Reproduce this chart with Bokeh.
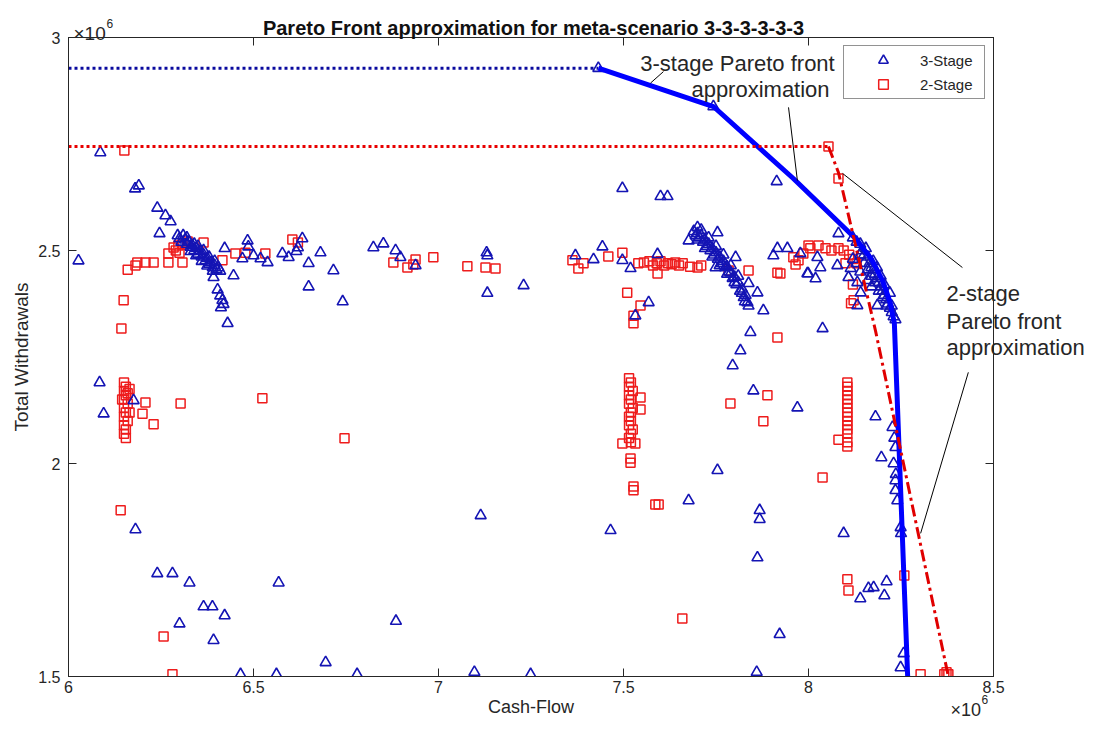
from bokeh.plotting import figure
from bokeh.models import (FixedTicker, CustomJSTickFormatter, LinearAxis,
                          Legend, LegendItem, Range1d, ColumnDataSource)
from bokeh.core.properties import value
from bokeh.embed import file_html
from bokeh.resources import INLINE

# ---------------- data (Cash-Flow, Total Withdrawals) in units of 1e6 ----------------
stage3_front_pts = [(7.432, 2.928), (7.743, 2.838)]
stage3_left = [(6.027, 2.476), (6.086, 2.73), (6.18, 2.645), (6.19, 2.652), (6.24, 2.60),
               (6.262, 2.582), (6.276, 2.568), (6.246, 2.54), (6.422, 2.505), (6.446, 2.441),
               (6.392, 2.437), (6.403, 2.408), (6.41, 2.394), (6.416, 2.383), (6.419, 2.374),
               (6.412, 2.366), (6.43, 2.329), (6.484, 2.523), (6.486, 2.509), (6.47, 2.481),
               (6.50, 2.488), (6.519, 2.481), (6.538, 2.472), (6.578, 2.493), (6.595, 2.484),
               (6.632, 2.528), (6.62, 2.507), (6.616, 2.498), (6.649, 2.47), (6.649, 2.415),
               (6.681, 2.495), (6.716, 2.453), (6.741, 2.38)]
stage3_cluster1 = [(6.295, 2.535), (6.30, 2.528), (6.305, 2.52), (6.31, 2.535), (6.315, 2.525),
                   (6.32, 2.515), (6.325, 2.52), (6.33, 2.508), (6.335, 2.512), (6.34, 2.50),
                   (6.345, 2.505), (6.35, 2.492), (6.355, 2.498), (6.36, 2.485), (6.365, 2.49),
                   (6.37, 2.476), (6.375, 2.482), (6.38, 2.468), (6.385, 2.472), (6.39, 2.46),
                   (6.395, 2.465), (6.40, 2.455), (6.405, 2.46), (6.41, 2.452), (6.33, 2.498),
                   (6.345, 2.488), (6.36, 2.475), (6.375, 2.464), (6.39, 2.452), (6.35, 2.51),
                   (6.365, 2.50), (6.38, 2.485), (6.395, 2.475), (6.32, 2.53), (6.34, 2.515)]
stage3_middle = [(6.824, 2.507), (6.851, 2.516), (6.884, 2.50), (6.897, 2.484), (6.938, 2.465),
                 (7.132, 2.488), (7.13, 2.495), (7.132, 2.40), (7.23, 2.418), (7.37, 2.488),
                 (7.443, 2.509), (7.419, 2.479), (7.497, 2.477), (7.519, 2.458), (7.592, 2.491),
                 (7.568, 2.378), (7.532, 2.347), (7.497, 2.646), (7.60, 2.627), (7.619, 2.627)]
stage3_cluster2 = [(7.676, 2.523), (7.70, 2.554), (7.754, 2.542), (7.69, 2.545), (7.695, 2.535),
                   (7.70, 2.54), (7.705, 2.53), (7.71, 2.535), (7.715, 2.52), (7.72, 2.525),
                   (7.725, 2.51), (7.73, 2.515), (7.735, 2.50), (7.74, 2.505), (7.745, 2.49),
                   (7.75, 2.495), (7.755, 2.48), (7.76, 2.485), (7.765, 2.47), (7.77, 2.475),
                   (7.775, 2.46), (7.78, 2.462), (7.785, 2.45), (7.79, 2.448), (7.795, 2.435),
                   (7.80, 2.438), (7.805, 2.42), (7.81, 2.425), (7.815, 2.405), (7.82, 2.41),
                   (7.825, 2.39), (7.83, 2.395), (7.835, 2.378), (7.838, 2.37), (7.70, 2.525),
                   (7.72, 2.505), (7.74, 2.485), (7.76, 2.465), (7.78, 2.445), (7.80, 2.425),
                   (7.82, 2.40), (7.71, 2.548), (7.73, 2.53), (7.75, 2.51), (7.77, 2.49),
                   (7.79, 2.465), (7.81, 2.44), (7.828, 2.38)]
stage3_right = [(7.749, 2.46), (7.803, 2.484), (7.838, 2.423), (7.862, 2.401), (7.878, 2.359),
                (7.843, 2.308), (7.816, 2.265), (7.795, 2.23), (7.851, 2.171), (7.905, 2.488),
                (7.916, 2.505), (7.997, 2.446), (7.914, 2.662), (7.97, 2.131), (7.754, 1.984),
                (7.676, 1.913), (7.868, 1.89), (7.868, 1.869), (7.465, 1.843), (7.862, 1.779),
                (7.922, 1.599), (7.114, 1.878), (7.86, 1.51)]
stage3_low = [(6.465, 1.505), (6.562, 1.505), (6.695, 1.533), (6.78, 1.505), (7.097, 1.51),
              (7.249, 1.505), (6.885, 1.63), (6.084, 2.19), (6.095, 2.117), (6.176, 2.148),
              (6.181, 1.845), (6.24, 1.742), (6.281, 1.742), (6.327, 1.72), (6.568, 1.72),
              (6.365, 1.664), (6.389, 1.664), (6.422, 1.643), (6.30, 1.624), (6.392, 1.585)]
stage3_near_front = [(8.081, 2.54), (7.943, 2.505), (7.978, 2.493), (8.024, 2.484), (7.999, 2.446),
                     (8.019, 2.434), (8.032, 2.46), (8.078, 2.465), (8.114, 2.458), (8.108, 2.437),
                     (8.132, 2.425), (8.141, 2.401), (8.132, 2.371), (8.186, 2.371), (8.038, 2.317),
                     (8.12, 2.53), (8.13, 2.52), (8.14, 2.515), (8.145, 2.50), (8.15, 2.49),
                     (8.16, 2.485), (8.165, 2.47), (8.17, 2.46), (8.175, 2.455), (8.18, 2.445),
                     (8.185, 2.435), (8.19, 2.425), (8.195, 2.415), (8.20, 2.405), (8.205, 2.395),
                     (8.21, 2.385), (8.215, 2.375), (8.22, 2.365), (8.225, 2.355), (8.23, 2.345),
                     (8.235, 2.338), (8.15, 2.47), (8.16, 2.455), (8.17, 2.44), (8.18, 2.425),
                     (8.19, 2.405), (8.20, 2.39), (8.21, 2.37), (8.14, 2.49), (8.155, 2.505),
                     (8.175, 2.475), (8.185, 2.46), (8.195, 2.44), (8.205, 2.42), (8.22, 2.40),
                     (8.225, 2.37), (8.17, 2.415), (8.16, 2.43), (8.13, 2.47), (8.12, 2.48),
                     (8.14, 2.45)]
stage3_vertical = [(8.227, 2.085), (8.235, 2.038), (8.23, 2.0), (8.235, 1.96), (8.235, 1.937),
                   (8.24, 1.913), (8.249, 1.85), (8.25, 1.836), (8.257, 1.554), (8.249, 1.521),
                   (8.232, 2.06), (8.236, 1.975), (8.181, 2.11), (8.197, 2.014), (8.095, 1.836),
                   (8.14, 1.683), (8.162, 1.707), (8.176, 1.709), (8.211, 1.723), (8.205, 1.69)]

stage2_left = [(6.151, 2.735), (6.16, 2.455), (6.181, 2.465), (6.186, 2.472), (6.208, 2.472),
               (6.23, 2.472), (6.27, 2.472), (6.308, 2.472), (6.27, 2.493), (6.284, 2.507),
               (6.297, 2.512), (6.308, 2.514), (6.322, 2.521), (6.29, 2.50), (6.30, 2.495),
               (6.365, 2.519), (6.416, 2.477), (6.451, 2.493), (6.478, 2.495), (6.532, 2.493),
               (6.605, 2.526), (6.62, 2.519), (6.149, 2.383), (6.143, 2.317)]
stage2_left_column = [(6.15, 2.19), (6.155, 2.18), (6.15, 2.17), (6.155, 2.16), (6.15, 2.15),
                      (6.16, 2.14), (6.15, 2.13), (6.155, 2.12), (6.15, 2.11), (6.16, 2.10),
                      (6.15, 2.09), (6.155, 2.08), (6.15, 2.07), (6.155, 2.06), (6.165, 2.175),
                      (6.165, 2.12), (6.16, 2.165), (6.145, 2.15), (6.208, 2.143), (6.2, 2.117),
                      (6.23, 2.092), (6.303, 2.141), (6.524, 2.153), (6.746, 2.059), (6.141, 1.89),
                      (6.257, 1.594), (6.281, 1.505)]
stage2_middle = [(6.878, 2.472), (6.916, 2.46), (6.938, 2.479), (6.932, 2.467), (6.986, 2.484),
                 (7.078, 2.463), (7.127, 2.46), (7.154, 2.458), (7.362, 2.477), (7.378, 2.458),
                 (7.392, 2.47), (7.459, 2.486), (7.497, 2.495), (7.54, 2.47), (7.555, 2.472),
                 (7.57, 2.475), (7.58, 2.465), (7.59, 2.47), (7.60, 2.475), (7.61, 2.465),
                 (7.62, 2.47), (7.63, 2.468), (7.64, 2.472), (7.65, 2.465), (7.66, 2.47),
                 (7.68, 2.462), (7.70, 2.46), (7.71, 2.465), (7.592, 2.446), (7.784, 2.453),
                 (7.838, 2.453), (7.916, 2.448)]
stage2_mid_column = [(7.515, 2.20), (7.52, 2.19), (7.515, 2.18), (7.525, 2.17), (7.515, 2.16),
                     (7.52, 2.15), (7.515, 2.14), (7.525, 2.13), (7.52, 2.12), (7.515, 2.11),
                     (7.52, 2.10), (7.515, 2.09), (7.525, 2.08), (7.52, 2.07), (7.515, 2.06),
                     (7.52, 2.05), (7.546, 2.155), (7.546, 2.127), (7.497, 2.047), (7.532, 2.047),
                     (7.519, 2.012), (7.519, 2.002), (7.527, 1.946), (7.527, 1.937), (7.586, 1.904),
                     (7.595, 1.904), (7.659, 1.636), (7.51, 2.401), (7.546, 2.371), (7.527, 2.347),
                     (7.527, 2.329)]
stage2_right = [(7.916, 2.296), (7.889, 2.16), (7.789, 2.141), (7.878, 2.099), (8.105, 2.19),
                (8.105, 2.18), (8.105, 2.17), (8.105, 2.16), (8.105, 2.15), (8.105, 2.14),
                (8.105, 2.13), (8.105, 2.12), (8.105, 2.11), (8.105, 2.10), (8.105, 2.09),
                (8.105, 2.08), (8.105, 2.07), (8.105, 2.05), (8.105, 2.04), (8.081, 2.056),
                (8.038, 1.967), (8.105, 1.728), (8.108, 1.702), (8.259, 1.737)]
stage2_near_front = [(8.054, 2.744), (8.081, 2.669), (7.959, 2.484), (7.973, 2.477), (8.0, 2.512),
                     (8.005, 2.505), (8.027, 2.512), (8.046, 2.505), (8.062, 2.50), (8.081, 2.505),
                     (8.095, 2.50), (7.986, 2.493), (7.965, 2.467), (8.11, 2.49), (8.12, 2.48),
                     (8.13, 2.47), (8.10, 2.47), (8.12, 2.42), (8.122, 2.383), (8.115, 2.376),
                     (7.924, 2.446), (8.303, 1.505), (8.367, 1.505), (8.373, 1.51), (8.378, 1.505)]

# Pareto front approximations
front3_x = [7.432, 7.743, 7.959, 8.127, 8.17, 8.20, 8.22, 8.232, 8.268]
front3_y = [2.928, 2.838, 2.669, 2.528, 2.48, 2.43, 2.38, 2.33, 1.50]
front2_x = [8.054, 8.081, 8.181, 8.378]
front2_y = [2.744, 2.683, 2.312, 1.50]
ideal3_x = [6.0, 7.432]
ideal3_y = [2.928, 2.928]
ideal2_x = [6.0, 8.054]
ideal2_y = [2.744, 2.744]

# annotation leader lines (data units)
leader_x0 = [7.608, 7.946, 8.092, 8.432]
leader_y0 = [2.920, 2.836, 2.681, 2.214]
leader_x1 = [7.573, 7.970, 8.416, 8.303]
leader_y1 = [2.893, 2.664, 2.460, 1.836]

x_ticks = [6, 6.5, 7, 7.5, 8, 8.5]
y_ticks = [1.5, 2, 2.5, 3]

title_text = "Pareto Front approximation for meta-scenario 3-3-3-3-3-3"
x_label = "Cash-Flow"
y_label = "Total Withdrawals"

# ---------------------------------------------------------------------------
stage3 = (stage3_front_pts + stage3_left + stage3_cluster1 + stage3_middle + stage3_cluster2
          + stage3_right + stage3_low + stage3_near_front + stage3_vertical)
stage2 = (stage2_left + stage2_left_column + stage2_middle + stage2_mid_column
          + stage2_right + stage2_near_front)

FONT = "Liberation Sans"
TXT = "#262626"

p = figure(width=1084, height=719,
           x_range=Range1d(6, 8.5), y_range=Range1d(1.5, 3),
           output_backend="svg", toolbar_location=None,
           min_border_left=68, min_border_right=91, min_border_top=37, min_border_bottom=43,
           background_fill_color="white", border_fill_color="white")
p.xgrid.visible = False
p.ygrid.visible = False
p.outline_line_color = TXT
p.outline_line_width = 1

fmt = CustomJSTickFormatter(code="return tick.toString();")
blank = CustomJSTickFormatter(code="return '';")


def style_axis(ax, ticks, formatter):
    ax.ticker = FixedTicker(ticks=ticks)
    ax.formatter = formatter
    ax.major_tick_in = 8
    ax.major_tick_out = 0
    ax.minor_tick_line_color = None
    ax.axis_line_color = TXT
    ax.major_tick_line_color = TXT
    ax.major_label_text_font = FONT
    ax.major_label_text_font_size = "16px"
    ax.major_label_text_color = TXT
    ax.axis_label_text_font = FONT
    ax.axis_label_text_font_size = "18px"
    ax.axis_label_text_font_style = "normal"
    ax.axis_label_text_color = TXT


style_axis(p.xaxis[0], x_ticks, fmt)
style_axis(p.yaxis[0], y_ticks, fmt)
p.xaxis[0].axis_label = x_label
p.yaxis[0].axis_label = y_label
p.xaxis[0].major_label_standoff = 4
p.yaxis[0].major_label_standoff = 8
p.xaxis[0].axis_label_standoff = 1
p.yaxis[0].axis_label_standoff = 3
p.yaxis[0].axis_label_text_font_size = "19px"

top_ax = LinearAxis()
style_axis(top_ax, x_ticks, blank)
top_ax.major_label_standoff = 0
p.add_layout(top_ax, "above")
right_ax = LinearAxis()
style_axis(right_ax, y_ticks, blank)
right_ax.major_label_standoff = 0
p.add_layout(right_ax, "right")

src2 = ColumnDataSource(dict(x=[a for a, b in stage2], y=[b for a, b in stage2]))
src3 = ColumnDataSource(dict(x=[a for a, b in stage3], y=[b for a, b in stage3]))

r2 = p.scatter("x", "y", source=src2, marker="square", size=9, fill_color=None,
               line_color="#ee1c1c", line_width=1.5)
r3 = p.scatter("x", "y", source=src3, marker="triangle", size=11, fill_color=None,
               line_color="#1414b4", line_width=1.6)

p.line(ideal3_x, ideal3_y, line_color="#0a0a9e", line_width=3, line_dash="3 3")
p.line(front3_x, front3_y, line_color="#0000ff", line_width=5)
p.line(ideal2_x, ideal2_y, line_color="#e80000", line_width=3, line_dash="3 3")
p.line(front2_x, front2_y, line_color="#e00000", line_width=3, line_dash="12 4 3 4")

p.segment(leader_x0, leader_y0, leader_x1, leader_y1, line_color="black", line_width=1)

legend = Legend(items=[LegendItem(label="3-Stage", renderers=[r3]),
                       LegendItem(label="2-Stage", renderers=[r2])],
                location="top_right", margin=8, padding=2, spacing=-6,
                glyph_width=74, glyph_height=24, label_height=14, label_width=62,
                label_standoff=0,
                label_text_font=FONT, label_text_font_size="15px", label_text_color=TXT,
                border_line_color=TXT, border_line_width=1, background_fill_color="white",
                background_fill_alpha=1.0)
p.add_layout(legend)


# free text placed by picture position (px, py) -> data coordinates of the axes
def dx(px):
    return 6 + (px - 68) / 370.0


def dy(py):
    return 1.5 + (676 - py) / 426.0


def txt(px, py, s, size, align="left", style="normal", color=TXT):
    p.text(x=[dx(px)], y=[dy(py)], text=[s], text_font=value(FONT), text_font_size=size,
           text_align=align, text_baseline="alphabetic", text_font_style=style,
           text_color=color, level="overlay")


txt(533, 27, title_text, "20px", align="center", style="bold", color="#111111")
txt(73, 33, "\u00d710", "19px")
txt(106, 23, "6", "12px")
txt(950, 709, "\u00d710", "18px")
txt(981, 699, "6", "12px")

txt(737, 63, "3-stage Pareto front", "22px", align="center")
txt(760, 89, "approximation", "22px", align="center")
txt(946, 293, "2-stage", "22px")
txt(946, 321, "Pareto front", "22px")
txt(946, 347, "approximation", "22px")

open("out.html", "w").write(file_html(p, INLINE))
